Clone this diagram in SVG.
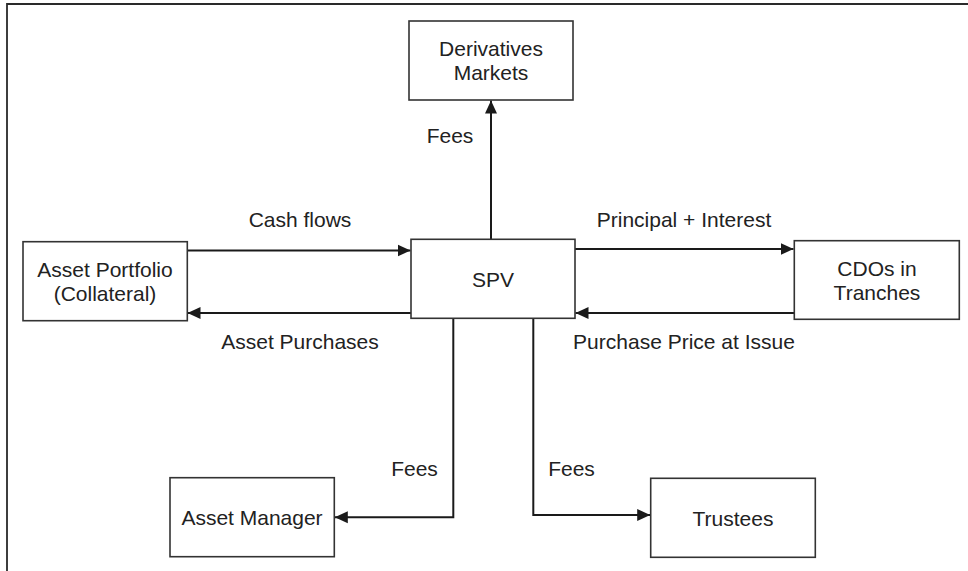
<svg xmlns="http://www.w3.org/2000/svg" width="968" height="571" viewBox="0 0 968 571">
<style>
.box{fill:#fff;stroke:#333;stroke-width:1.6}
.t{font-family:"Liberation Sans",Arial,sans-serif;font-size:21px;fill:#222;text-anchor:middle}
.c{fill:none;stroke:#1a1a1a;stroke-width:2}
</style>
<defs>
<marker id="ah" markerUnits="userSpaceOnUse" markerWidth="14" markerHeight="14" viewBox="0 0 14 14" refX="13" refY="7" orient="auto">
<path d="M0,1 L13,7 L0,13 Z" fill="#1a1a1a"/>
</marker>
</defs>
<rect width="968" height="571" fill="#fff"/>
<path d="M7,571 V4 H968" fill="none" stroke="#2a2a2a" stroke-width="1.8"/>
<g id="connectors">
<line class="c" x1="491" y1="239" x2="491" y2="100.5" marker-end="url(#ah)"/>
<line class="c" x1="187" y1="250.5" x2="410.5" y2="250.5" marker-end="url(#ah)"/>
<line class="c" x1="411" y1="313" x2="187.5" y2="313" marker-end="url(#ah)"/>
<line class="c" x1="575" y1="249" x2="793.5" y2="249" marker-end="url(#ah)"/>
<line class="c" x1="794" y1="313" x2="575.5" y2="313" marker-end="url(#ah)"/>
<path class="c" d="M453.3,318 V517.3 H334.8" marker-end="url(#ah)"/>
<path class="c" d="M533.3,318 V515 H650.2" marker-end="url(#ah)"/>
<text class="t" x="450" y="143">Fees</text>
<text class="t" x="300" y="226.5">Cash flows</text>
<text class="t" x="684" y="226.5">Principal + Interest</text>
<text class="t" x="300" y="349">Asset Purchases</text>
<text class="t" x="684" y="349">Purchase Price at Issue</text>
<text class="t" x="414.5" y="476">Fees</text>
<text class="t" x="571.5" y="476">Fees</text>
</g>
<g id="derivatives">
<rect class="box" x="409" y="21" width="164" height="79"/>
<text class="t" x="491" y="56">Derivatives</text>
<text class="t" x="491" y="80">Markets</text>
</g>
<g id="portfolio">
<rect class="box" x="23" y="241.7" width="164.3" height="79"/>
<text class="t" x="105" y="276.7">Asset Portfolio</text>
<text class="t" x="105" y="300.5">(Collateral)</text>
</g>
<g id="spv">
<rect class="box" x="411" y="239.3" width="164" height="79"/>
<text class="t" x="493" y="287.3">SPV</text>
</g>
<g id="cdos">
<rect class="box" x="794.3" y="240.7" width="165" height="78.6"/>
<text class="t" x="877" y="276">CDOs in</text>
<text class="t" x="877" y="300">Tranches</text>
</g>
<g id="manager">
<rect class="box" x="170" y="477.7" width="164.3" height="79"/>
<text class="t" x="252" y="525">Asset Manager</text>
</g>
<g id="trustees">
<rect class="box" x="650.7" y="478.3" width="164.6" height="79"/>
<text class="t" x="733" y="526">Trustees</text>
</g>
</svg>
